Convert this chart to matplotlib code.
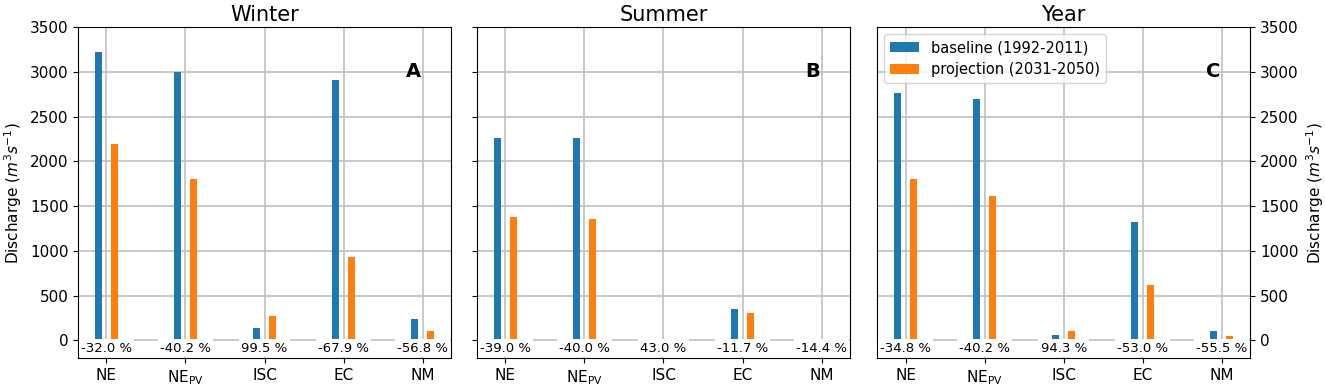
import numpy as np
import matplotlib.pyplot as plt

# Data
regions = ['NE', r'NE$_{\mathrm{PV}}$', 'ISC', 'EC', 'NM']
titles = ['Winter', 'Summer', 'Year']
letters = ['A', 'B', 'C']

winter_base = [3225, 3002, 134, 2906, 239]
winter_proj = [2195, 1801, 267, 931, 100]
summer_base = [2265, 2258, 10, 350, 15]
summer_proj = [1380, 1353, 14, 309, 13]
year_base = [2768, 2694, 55, 1321, 100]
year_proj = [1805, 1608, 107, 617, 44]

winter_pct = [-32.0, -40.2, 99.5, -67.9, -56.8]
summer_pct = [-39.0, -40.0, 43.0, -11.7, -14.4]
year_pct = [-34.8, -40.2, 94.3, -53.0, -55.5]

base = [winter_base, summer_base, year_base]
proj = [winter_proj, summer_proj, year_proj]
pct = [winter_pct, summer_pct, year_pct]

fig = plt.figure(figsize=(13.25, 3.88), dpi=100)
lefts = [0.0589, 0.360, 0.662]
x = np.arange(len(regions))
w = 0.09

for k in range(3):
    ax = fig.add_axes([lefts[k], 0.0765, 0.2815, 0.854])
    ax.bar(x - 0.1, base[k], w, color='#1f77b4', label='baseline (1992-2011)', zorder=3)
    ax.bar(x + 0.1, proj[k], w, color='#ff7f0e', label='projection (2031-2050)', zorder=3)
    ax.set_ylim(-200, 3500)
    ax.set_yticks(np.arange(0, 3501, 500))
    ax.set_xticks(x)
    ax.set_xticklabels(regions, fontsize=11)
    ax.tick_params(axis='y', labelsize=11)
    ax.grid(True, color='#c0c0c0', linewidth=1.2, zorder=0)
    ax.set_axisbelow(True)
    ax.set_title(titles[k], fontsize=15, pad=4)
    for i, p in enumerate(pct[k]):
        ax.text(x[i], -85, f'{p:.1f} %', ha='center', va='center', fontsize=9.5,
                bbox=dict(facecolor='white', edgecolor='none', pad=1.5), zorder=4)
    ax.text(0.9, 0.865, letters[k], transform=ax.transAxes, fontsize=14,
            fontweight='bold', ha='center', va='center')
    if k == 0:
        ax.set_ylabel('Discharge ($m^3s^{-1}$)', fontsize=11)
    elif k == 1:
        ax.set_yticklabels([])
    else:
        ax.yaxis.tick_right()
        ax.yaxis.set_label_position('right')
        ax.set_ylabel('Discharge ($m^3s^{-1}$)', fontsize=11)
        ax.legend(loc='upper left', fontsize=10.5)

fig.savefig('out.png', dpi=100)
